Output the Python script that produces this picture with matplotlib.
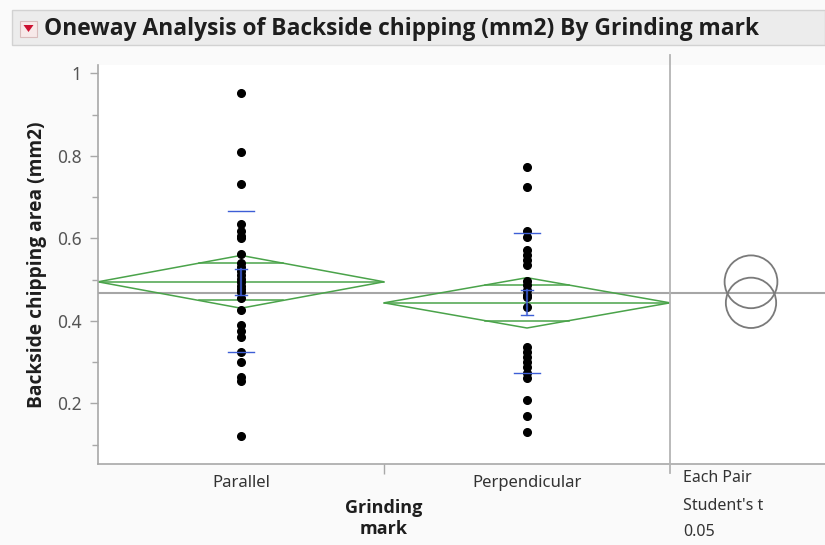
import matplotlib.pyplot as plt
from matplotlib.patches import Rectangle, Polygon, Circle
from matplotlib.lines import Line2D

# values
groups = ['Parallel', 'Perpendicular']
parallel = [0.953, 0.810, 0.731, 0.634, 0.618, 0.606, 0.600, 0.562, 0.540,
            0.530, 0.521, 0.512, 0.503, 0.495, 0.486, 0.478, 0.470, 0.455,
            0.427, 0.390, 0.375, 0.362, 0.325, 0.301, 0.265, 0.255, 0.120]
perpendicular = [0.774, 0.726, 0.619, 0.604, 0.572, 0.560, 0.548, 0.536,
                 0.497, 0.487, 0.475, 0.463, 0.458, 0.435, 0.338, 0.325,
                 0.312, 0.300, 0.289, 0.275, 0.262, 0.208, 0.170, 0.131]
means = [0.495, 0.444]
ci_half = [0.064, 0.061]
std_devs = [0.171, 0.169]
std_errs = [0.031, 0.030]
grand_mean = 0.469
y_ticks = [0.2, 0.4, 0.6, 0.8, 1.0]
y_tick_labels = ['0.2', '0.4', '0.6', '0.8', '1']

W, H = 825, 545
FONT = 'Noto Sans'
BOLD = 'Open Sans'
GREEN = '#4aa34a'
BLUE = '#3d5ed6'
GRAY = '#a6a6a6'


def rect(x0, y0, x1, y1):
    # pixel box (top-left origin) -> figure fraction
    return [x0 / W, 1 - y1 / H, (x1 - x0) / W, (y1 - y0) / H]


fig = plt.figure(figsize=(W / 100, H / 100), dpi=100, facecolor='#fafafa')

# header bar with the red disclosure triangle
fig.patches.append(Rectangle((12 / W, 1 - 45 / H), 813 / W, 35 / H, transform=fig.transFigure,
                             facecolor='#ececec', edgecolor='#d2d2d2', lw=1))
fig.patches.append(Rectangle((20 / W, 1 - 37 / H), 17 / W, 16 / H, transform=fig.transFigure,
                             facecolor='#f7e9e9', edgecolor='#d9bcbc', lw=0.8))
fig.patches.append(Polygon([(23.5 / W, 1 - 25 / H), (33.5 / W, 1 - 25 / H), (28.5 / W, 1 - 32 / H)],
                           closed=True, transform=fig.transFigure, facecolor='#cc1030', edgecolor='none'))
fig.text(44 / W, 1 - 29 / H, 'Oneway Analysis of Backside chipping (mm2) By Grinding mark',
         fontsize=16.4, fontweight='bold', family=BOLD, color='#1e1e1e', va='center', ha='left')

ax = fig.add_axes(rect(98, 65, 670, 464))
ax.set_facecolor('white')
ymin, ymax = 0.0533, 1.0206
ax.set_ylim(ymin, ymax)
ax.set_xlim(0, 2)

for s in ['top', 'right']:
    ax.spines[s].set_visible(False)
for s in ['left', 'bottom']:
    ax.spines[s].set_color('#a8a8a8')
    ax.spines[s].set_linewidth(1.2)

ax.set_yticks(y_ticks)
ax.set_yticklabels(y_tick_labels, family=FONT, fontsize=12.5, color='#555555')
ax.set_yticks([0.1, 0.3, 0.5, 0.7, 0.9], minor=True)
ax.tick_params(axis='y', which='major', length=6, width=1, color='#a8a8a8', pad=6)
ax.tick_params(axis='y', which='minor', length=4, width=1, color='#a8a8a8')

ax.set_xticks([0.5, 1.5])
ax.set_xticklabels(groups, family=FONT, fontsize=12, color='#333333')
ax.set_xticks([1.0], minor=True)
ax.tick_params(axis='x', which='major', length=0, pad=8)
ax.tick_params(axis='x', which='minor', length=7, width=1, color='#a8a8a8')

ax.set_ylabel('Backside chipping area (mm2)', family=BOLD, fontsize=13.8,
              fontweight='bold', color='#1e1e1e', labelpad=7)
ax.set_xlabel('Grinding\nmark', family=BOLD, fontsize=13, fontweight='bold',
              color='#1e1e1e', linespacing=1.15, labelpad=6)

# grand mean line
ax.axhline(grand_mean, color=GRAY, lw=1.5, zorder=1)

# means diamonds with overlap marks
for i, (m, c) in enumerate(zip(means, ci_half)):
    x0, xc, x1 = i, i + 0.5, i + 1
    ax.add_patch(Polygon([(x0, m), (xc, m + c), (x1, m), (xc, m - c)], closed=True,
                         fill=False, edgecolor=GREEN, lw=1.1, zorder=2))
    ax.plot([x0, x1], [m, m], color=GREEN, lw=1.1, zorder=2)
    h = c / 2 ** 0.5
    hw = 0.5 * (1 - h / c)
    for yy in (m + h, m - h):
        ax.plot([xc - hw, xc + hw], [yy, yy], color=GREEN, lw=1.1, zorder=2)

# points
for i, vals in enumerate([parallel, perpendicular]):
    ax.plot([i + 0.5] * len(vals), vals, 'o', color='black', ms=5.5, zorder=3)

# std dev lines and mean error bars
for i, (m, sd, se) in enumerate(zip(means, std_devs, std_errs)):
    xc = i + 0.5
    for yy in (m + sd, m - sd):
        ax.plot([xc - 0.045, xc + 0.045], [yy, yy], color=BLUE, lw=1, zorder=4)
    ax.plot([xc, xc], [m - se, m + se], color=BLUE, lw=1.6, alpha=0.8, zorder=4)
    for yy in (m + se, m - se):
        ax.plot([xc - 0.02, xc + 0.02], [yy, yy], color=BLUE, lw=1, zorder=4)

# comparison circles panel
ax2 = fig.add_axes(rect(670, 65, 825, 464))
ax2.set_facecolor('white')
ax2.set_ylim(ymin, ymax)
px_per_unit = 399 / (ymax - ymin)
ax2.set_xlim(0, 155 / px_per_unit)
for s in ['top', 'right', 'left']:
    ax2.spines[s].set_visible(False)
ax2.spines['bottom'].set_color('#a8a8a8')
ax2.spines['bottom'].set_linewidth(1.2)
ax2.set_xticks([])
ax2.set_yticks([])
ax2.axhline(grand_mean, color=GRAY, lw=1.5, zorder=1)
cx = 81 / px_per_unit
for m, c in zip(means, ci_half):
    ax2.add_patch(Circle((cx, m), c, fill=False, edgecolor='#7a7a7a', lw=1.3, zorder=2))

# divider between the plot and the circles
fig.add_artist(Line2D([670 / W, 670 / W], [1 - 55 / H, 1 - 473 / H], transform=fig.transFigure,
                      color='#b4b4b4', lw=1.3))

for txt, yy in [('Each Pair', 478), ("Student's t", 506), ('0.05', 532)]:
    fig.text(683 / W, 1 - yy / H, txt, family=FONT, fontsize=11.5, color='#333333',
             ha='left', va='center')

fig.savefig('out.png', dpi=100, facecolor=fig.get_facecolor())
